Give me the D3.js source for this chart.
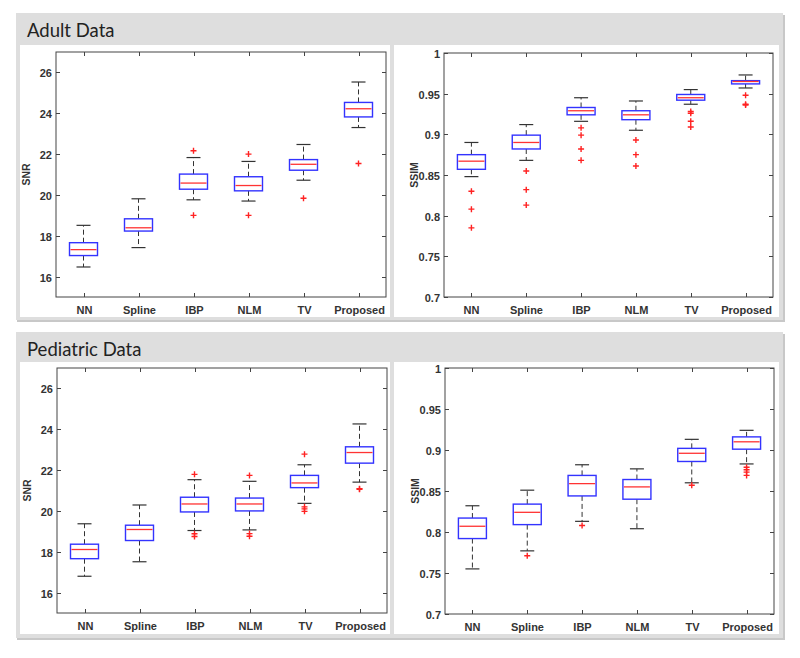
<!DOCTYPE html>
<html><head><meta charset="utf-8">
<script src="https://cdn.jsdelivr.net/npm/d3@7"></script>
<style>body{margin:0;background:#fff}svg{display:block}</style>
</head><body>
<svg id="c" width="800" height="658"></svg>
<script>
const categories = ["NN","Spline","IBP","NLM","TV","Proposed"];
const snrTicks = [16,18,20,22,24,26];
const ssimTicks = [0.7,0.75,0.8,0.85,0.9,0.95,1];
const ssimTickLabels = ["0.7","0.75","0.8","0.85","0.9","0.95","1"];
// each: [lowerWhisker, q1, median, q3, upperWhisker]
const adultSNR = [[16.47,17.03,17.32,17.66,18.51],[17.42,18.23,18.39,18.83,19.81],[19.76,20.28,20.58,21.02,21.83],[19.70,20.20,20.46,20.89,21.64],[20.72,21.21,21.50,21.73,22.47],[23.30,23.82,24.22,24.53,25.53]];
const adultSNROut = [[],[],[22.16,19.0],[22.0,19.0],[19.84],[21.54]];
const adultSSIM = [[0.848,0.857,0.867,0.875,0.890],[0.868,0.882,0.890,0.899,0.912],[0.916,0.924,0.929,0.933,0.945],[0.905,0.918,0.924,0.929,0.941],[0.937,0.942,0.945,0.949,0.955],[0.957,0.962,0.965,0.966,0.973]];
const adultSSIMOut = [[0.830,0.808,0.785],[0.855,0.832,0.813],[0.908,0.899,0.882,0.868],[0.893,0.875,0.861],[0.928,0.926,0.916,0.909],[0.948,0.937,0.936]];
const pedSNR = [[16.80,17.66,18.11,18.37,19.37],[17.51,18.55,19.09,19.30,20.29],[19.04,19.95,20.34,20.67,21.53],[19.07,20.00,20.34,20.63,21.45],[20.37,21.14,21.37,21.74,22.26],[21.41,22.34,22.86,23.14,24.26]];
const pedSNROut = [[],[],[21.79,18.88,18.75],[21.74,18.89,18.76],[22.78,20.2,20.1,19.98],[21.09,21.06]];
const pedSSIM = [[0.755,0.792,0.807,0.817,0.832],[0.777,0.809,0.824,0.834,0.851],[0.813,0.844,0.859,0.869,0.882],[0.804,0.840,0.855,0.864,0.877],[0.860,0.886,0.896,0.902,0.913],[0.883,0.901,0.910,0.916,0.924]];
const pedSSIMOut = [[],[0.771],[0.808],[],[0.857],[0.879,0.876,0.873,0.869]];

const svg = d3.select("#c");

function panel(y0, h, title){
  // shadow
  svg.append("rect").attr("x",17).attr("y",y0+2).attr("width",768).attr("height",h).attr("fill","#c8c8c8");
  svg.append("rect").attr("x",16).attr("y",y0).attr("width",767).attr("height",h).attr("fill","#dedede");
  svg.append("text").attr("x",27).attr("y",y0+24).text(title)
    .attr("font-family","Lato, 'Open Sans', sans-serif").attr("font-size",18.5).attr("fill","#222");
}
function whiteBox(x,y,w,h){
  svg.append("rect").attr("x",x).attr("y",y).attr("width",w).attr("height",h).attr("fill","#fff");
}

function boxChart(opts){
  const {x0,x1,y0,y1,domain,ticks,tickLabels,ylabel,stats,outs} = opts;
  const g = svg.append("g");
  const x = d3.scaleLinear().domain([0.5,6.5]).range([x0,x1]);
  const y = d3.scaleLinear().domain(domain).range([y1,y0]);
  const font = "Arial, 'Liberation Sans', sans-serif";
  // frame
  g.append("rect").attr("x",x0).attr("y",y0).attr("width",x1-x0).attr("height",y1-y0)
    .attr("fill","none").attr("stroke","#444").attr("stroke-width",1);
  // y ticks
  ticks.forEach((t,i)=>{
    const yy = Math.round(y(t))+0.5;
    g.append("line").attr("x1",x0).attr("x2",x0+4).attr("y1",yy).attr("y2",yy).attr("stroke","#444");
    g.append("line").attr("x1",x1-4).attr("x2",x1).attr("y1",yy).attr("y2",yy).attr("stroke","#444");
    g.append("text").attr("x",x0-4).attr("y",yy+4).attr("text-anchor","end")
      .attr("font-family",font).attr("font-weight","bold").attr("font-size",11).attr("fill","#333")
      .text(tickLabels[i]);
  });
  categories.forEach((c,i)=>{
    const xx = Math.round(x(i+1))+0.5;
    g.append("line").attr("x1",xx).attr("x2",xx).attr("y1",y1).attr("y2",y1-4).attr("stroke","#444");
    g.append("line").attr("x1",xx).attr("x2",xx).attr("y1",y0).attr("y2",y0+4).attr("stroke","#444");
    g.append("text").attr("x",xx).attr("y",y1+17).attr("text-anchor","middle")
      .attr("font-family",font).attr("font-weight","bold").attr("font-size",11).attr("fill","#333")
      .text(c);
  });
  g.append("text").attr("transform",`translate(${x0-26},${(y0+y1)/2}) rotate(-90)`)
    .attr("text-anchor","middle").attr("font-family",font).attr("font-weight","bold")
    .attr("font-size",10.5).attr("fill","#333").text(ylabel);
  const bw = 28, cw = 14;
  stats.forEach((s,i)=>{
    const cx = x(i+1);
    const [lw,q1,md,q3,uw] = s;
    // whiskers dashed
    g.append("line").attr("x1",cx).attr("x2",cx).attr("y1",y(q3)).attr("y2",y(uw))
      .attr("stroke","#333").attr("stroke-dasharray","5,3");
    g.append("line").attr("x1",cx).attr("x2",cx).attr("y1",y(q1)).attr("y2",y(lw))
      .attr("stroke","#333").attr("stroke-dasharray","5,3");
    g.append("line").attr("x1",cx-cw/2).attr("x2",cx+cw/2).attr("y1",y(uw)).attr("y2",y(uw)).attr("stroke","#333").attr("stroke-width",1.2);
    g.append("line").attr("x1",cx-cw/2).attr("x2",cx+cw/2).attr("y1",y(lw)).attr("y2",y(lw)).attr("stroke","#333").attr("stroke-width",1.2);
    g.append("rect").attr("x",cx-bw/2).attr("y",y(q3)).attr("width",bw).attr("height",y(q1)-y(q3))
      .attr("fill","#fff").attr("stroke","#3333ff").attr("stroke-width",1.4);
    g.append("line").attr("x1",cx-bw/2+1).attr("x2",cx+bw/2-1).attr("y1",y(md)).attr("y2",y(md))
      .attr("stroke","#ff3333").attr("stroke-width",1.3);
    outs[i].forEach(o=>{
      const oy = y(o);
      g.append("path").attr("d",`M${cx-3},${oy}H${cx+3}M${cx},${oy-3}V${oy+3}`)
        .attr("stroke","#ff2222").attr("stroke-width",1.4);
    });
  });
}

panel(13, 307, "Adult Data");
whiteBox(20,45,370,272);
whiteBox(394,45,385,272);
panel(332, 306, "Pediatric Data");
whiteBox(20,362,370,272);
whiteBox(394,362,385,272);

boxChart({x0:56,x1:386,y0:52,y1:297,domain:[15,27],ticks:snrTicks,tickLabels:snrTicks.map(String),ylabel:"SNR",stats:adultSNR,outs:adultSNROut});
boxChart({x0:444,x1:773,y0:53,y1:297,domain:[0.7,1],ticks:ssimTicks,tickLabels:ssimTickLabels,ylabel:"SSIM",stats:adultSSIM,outs:adultSSIMOut});
boxChart({x0:57,x1:387,y0:368,y1:613,domain:[15,27],ticks:snrTicks,tickLabels:snrTicks.map(String),ylabel:"SNR",stats:pedSNR,outs:pedSNROut});
boxChart({x0:445,x1:774,y0:368,y1:614,domain:[0.7,1],ticks:ssimTicks,tickLabels:ssimTickLabels,ylabel:"SSIM",stats:pedSSIM,outs:pedSSIMOut});
</script>
</body></html>
